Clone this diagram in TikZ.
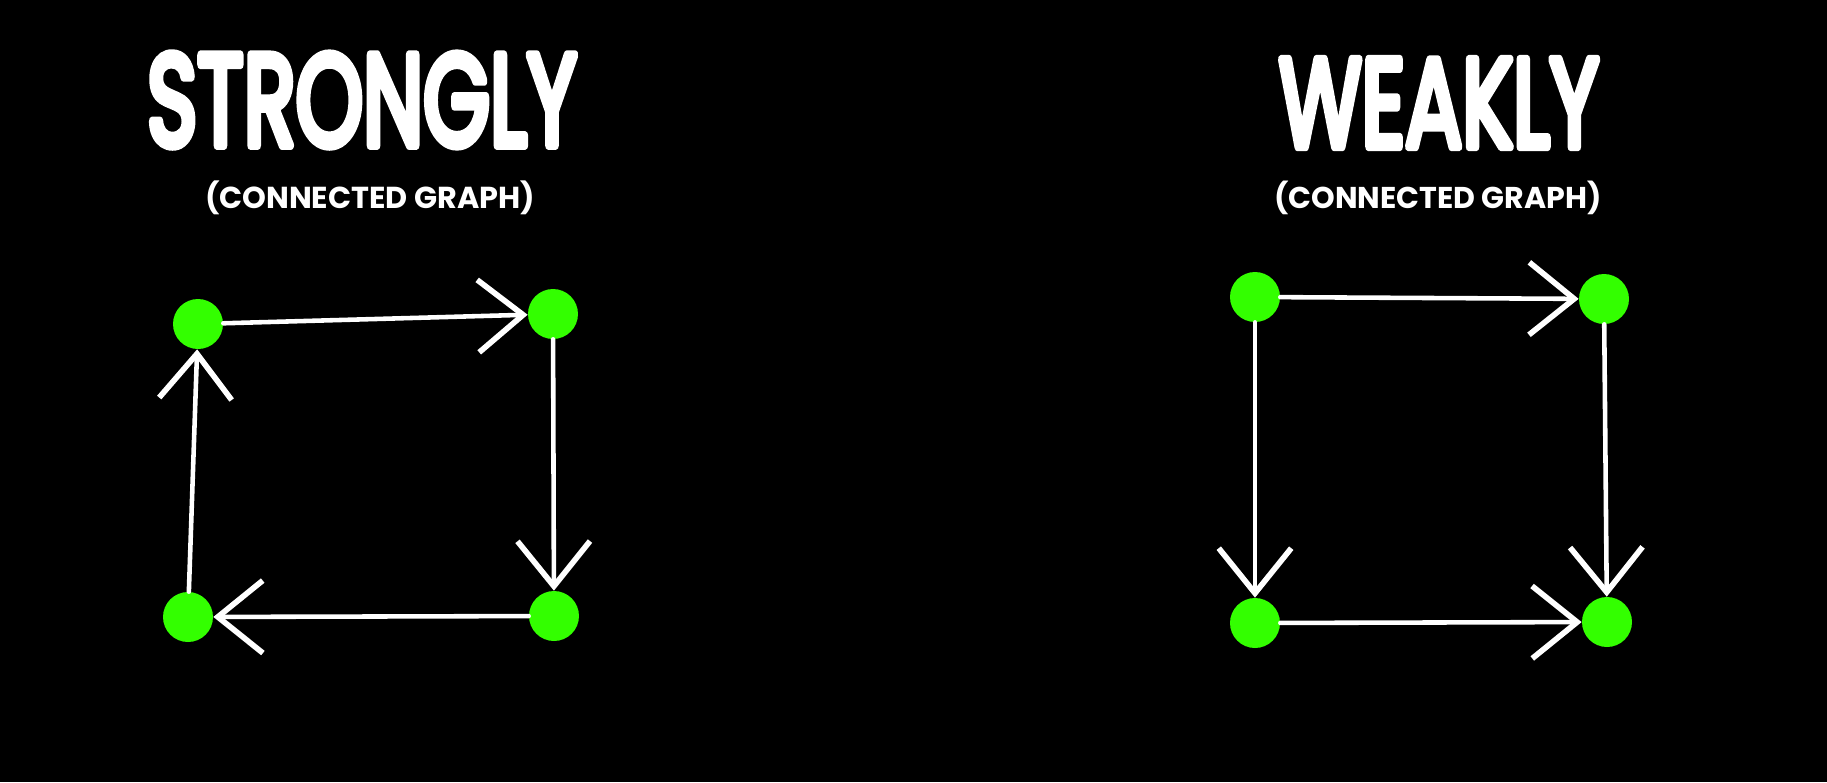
\documentclass[tikz,border=0pt]{standalone}
\usepackage{fontspec}
\setmainfont{Poppins}
\usetikzlibrary{arrows.meta}
\definecolor{nodegreen}{RGB}{51,255,0}
\newcommand{\roundtxt}[1]{\special{pdf:literal direct 1 j 1 J 0.7 w 2 Tr}#1\special{pdf:literal direct 0 Tr}}
\begin{document}
\begin{tikzpicture}[x=0.02cm,y=-0.02cm,
  vert/.style={circle,fill=nodegreen,draw=none,minimum size=1cm,inner sep=0pt},
  edge/.style={draw=white,line width=2.6pt,line cap=round,
    -{Straight Barb[length=0.9cm,width=1.45cm,line width=3.2pt]}},
  title/.style={text=white,inner sep=0pt,font=\mdseries},
  subtitle/.style={text=white,inner sep=0pt,font=\bfseries,anchor=base}]
\fill[black] (0,0) rectangle (1827,782);
\useasboundingbox (0,0) rectangle (1827,782);
% titles
\node[title] (t1) at (362,100) {\resizebox{8.6cm}{1.83cm}{\roundtxt{STRONGLY}}};
\node[subtitle] (s1) at (370,208) {\resizebox{6.6cm}{!}{(CONNECTED GRAPH)}};
\node[title] (t2) at (1439,103) {\resizebox{6.4cm}{1.75cm}{\roundtxt{WEAKLY}}};
\node[subtitle] (s2) at (1438,208) {\resizebox{6.55cm}{!}{(CONNECTED GRAPH)}};
% strongly connected
\node[vert] (a) at (198,324) {};
\node[vert] (b) at (553,314) {};
\node[vert] (c) at (554,616) {};
\node[vert] (d) at (188,617) {};
\draw[edge] (a) -- (b);
\draw[edge] (b) -- (c);
\draw[edge] (c) -- (d);
\draw[edge] (d) -- (a);
% weakly connected
\node[vert] (p) at (1255,297) {};
\node[vert] (q) at (1604,299) {};
\node[vert] (r) at (1255,623) {};
\node[vert] (s) at (1607,622) {};
\draw[edge] (p) -- (q);
\draw[edge] (p) -- (r);
\draw[edge] (q) -- (s);
\draw[edge] (r) -- (s);
\end{tikzpicture}
\end{document}
